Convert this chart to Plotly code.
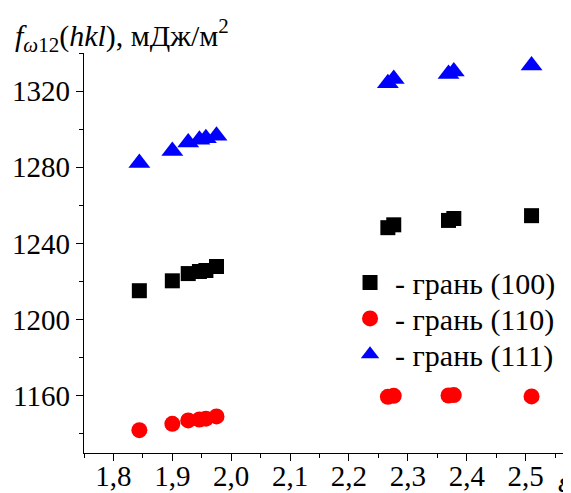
import plotly.graph_objects as go

# Data
eps = [1.844, 1.900, 1.927, 1.946, 1.957, 1.975, 2.266, 2.276, 2.369, 2.378, 2.510]
f100 = [1215.2, 1220.4, 1224.2, 1225.3, 1225.8, 1227.9, 1248.3, 1249.8, 1252.1, 1253.1, 1254.6]
f110 = [1142.0, 1145.3, 1147.1, 1147.6, 1148.0, 1149.2, 1159.5, 1160.0, 1160.2, 1160.4, 1159.7]
f111 = [1282.2, 1288.6, 1293.0, 1294.5, 1295.2, 1296.5, 1324.1, 1326.4, 1329.0, 1330.3, 1333.4]

series_names = ["- грань (100)", "- грань (110)", "- грань (111)"]

x_tickvals = [1.8, 1.9, 2.0, 2.1, 2.2, 2.3, 2.4, 2.5]
x_ticktext = ["1,8", "1,9", "2,0", "2,1", "2,2", "2,3", "2,4", "2,5"]
x_minor = [1.75, 1.85, 1.95, 2.05, 2.15, 2.25, 2.35, 2.45, 2.55]
y_tickvals = [1160, 1200, 1240, 1280, 1320]
y_ticktext = ["1160", "1200", "1240", "1280", "1320"]
y_minor = [1140, 1180, 1220, 1260, 1300, 1340]

FONT = "Liberation Serif"

fig = go.Figure()
fig.add_trace(go.Scatter(x=eps, y=f100, mode="markers", name=series_names[0],
                         legend="legend", showlegend=True,
                         marker=dict(symbol="square", size=15, color="black")))
fig.add_trace(go.Scatter(x=eps, y=f110, mode="markers", name=series_names[1],
                         legend="legend2", showlegend=True,
                         marker=dict(symbol="circle", size=16, color="#ff0000")))
fig.add_trace(go.Scatter(x=eps, y=f111, mode="markers", name=series_names[2],
                         legend="legend3", showlegend=True,
                         marker=dict(symbol="triangle-up", size=19, color="#0000ff")))

axis_common = dict(showline=True, linecolor="black", linewidth=1.3, showgrid=False,
                   zeroline=False, ticks="outside", ticklen=7, tickwidth=1.3,
                   tickcolor="black", tickfont=dict(family=FONT, size=29, color="black"),
                   automargin=False)

fig.update_xaxes(range=[1.75, 2.577], tickmode="array", tickvals=x_tickvals,
                 ticktext=x_ticktext, ticklabelstandoff=-10,
                 minor=dict(tickvals=x_minor, ticks="outside", ticklen=4,
                            tickwidth=1.3, tickcolor="black"),
                 **axis_common)
fig.update_yaxes(range=[1130, 1340], tickmode="array", tickvals=y_tickvals,
                 ticktext=y_ticktext,
                 minor=dict(tickvals=y_minor, ticks="outside", ticklen=4,
                            tickwidth=1.3, tickcolor="black"),
                 **axis_common)

fig.add_annotation(xref="paper", yref="paper", x=-0.146, y=1.045,
                   xanchor="left", yanchor="middle", showarrow=False,
                   text="<i>f</i><sub><i>ω</i>12</sub>(<i>hkl</i>), мДж/м<sup>2</sup>",
                   font=dict(family=FONT, size=30, color="black"))
fig.add_annotation(xref="paper", yref="paper", x=0.969, y=-0.07,
                   xanchor="left", yanchor="middle", showarrow=False,
                   text="<i>ε</i>", font=dict(family=FONT, size=30, color="black"))

leg_common = dict(x=0.536, xanchor="left", yanchor="middle",
                  bgcolor="rgba(0,0,0,0)", font=dict(family=FONT, size=30, color="black"),
                  itemsizing="trace", itemwidth=40)

fig.update_layout(
    width=563, height=485,
    margin=dict(l=76, r=0, t=44.5, b=40.2, pad=0),
    plot_bgcolor="white", paper_bgcolor="white",
    font=dict(family=FONT, color="black"),
    showlegend=True,
    legend=dict(y=0.426, **leg_common),
    legend2=dict(y=0.3365, **leg_common),
    legend3=dict(y=0.247, **leg_common),
)

fig.write_html("out.html")
